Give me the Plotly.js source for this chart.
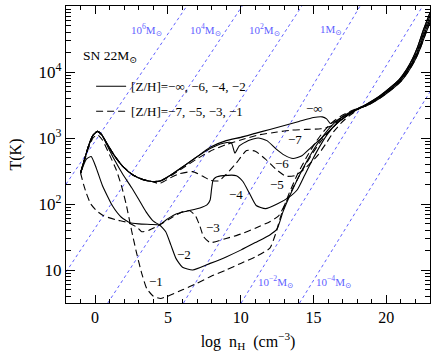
<!DOCTYPE html>
<html>
<head>
<script src="https://cdn.plot.ly/plotly-3.0.1.min.js"></script>
<style>
  html, body { margin: 0; padding: 0; background: #fff; }
  #chart { width: 431px; height: 354px; }
</style>
</head>
<body>
<div id="chart"></div>
<script>
// curves: log n_H and T(K)
const nInf = [-1.0,-0.75,-0.45,-0.15,0.15,0.45,0.8,1.3,1.9,2.6,3.3,3.9,4.5,5.2,6.0,6.9,7.9,9.0,10.0,11.0,12.0,13.0,14.0,15.0,15.6,15.9,16.15,16.5,17.1,17.9,18.7,19.5,20.3,20.9,21.4,21.8,22.15,22.55,23.0];
const tInf = [295,457,759,1096,1259,1122,832,550,372,275,234,219,224,275,363,501,724,912,1023,1175,1349,1549,1778,2042,2089,1950,1660,1778,2138,2692,3311,4266,5888,7762,10965,15849,23988,43652,79433];

const nM7 = [-1.0,-0.75,-0.45,-0.15,0.15,0.45,0.8,1.3,1.9,2.6,3.3,3.9,4.5,5.2,6.0,6.9,7.9,9.0,10.0,11.3,12.5,13.5,14.5,15.5,16.2,16.8,17.5,18.1,18.7,19.5,20.35,20.95,21.45,21.85,22.2,22.6,23.0];
const tM7 = [295,457,759,1096,1259,1122,832,550,372,275,234,219,224,269,347,468,631,794,933,1122,1230,1318,1349,1380,1514,1862,2344,2818,3236,4169,5754,7586,10715,15488,22909,41687,70795];

const nM6 = [-1.0,-0.75,-0.45,-0.15,0.15,0.45,0.8,1.3,1.9,2.6,3.3,3.9,4.5,5.2,6.0,6.9,7.9,8.8,9.35,9.6,9.9,10.5,11.2,11.8,12.4,13.0,13.6,14.2,14.8,15.4,15.9,16.5,17.2,18.0,18.7,19.5,20.3,20.9,21.4,21.8,22.15,22.55,23.0];
const tM6 = [295,457,759,1096,1259,1122,832,550,372,275,234,219,224,275,363,501,692,832,851,589,759,912,1000,912,692,550,490,537,708,933,1175,1585,2089,2692,3311,4266,5888,7762,10965,15849,23988,43652,79433];

const nM5 = [-1.0,-0.75,-0.45,-0.15,0.15,0.45,0.8,1.3,1.9,2.6,3.3,3.9,4.42,5.1,5.8,6.7,7.4,7.9,8.5,9.0,9.7,10.4,11.0,11.7,12.4,13.1,13.7,14.2,14.7,15.3,15.9,16.4,17.0,17.6,18.2,18.7,19.5,20.35,20.95,21.45,21.85,22.2,22.6,23.0];
const tM5 = [295,457,759,1096,1259,1122,832,550,372,275,234,219,204,245,288,309,263,229,224,282,417,646,631,479,339,263,269,316,398,550,851,1259,1778,2291,2818,3236,4169,5754,7586,10715,15488,22909,41687,70795];

const nM4 = [-1.0,-0.75,-0.45,-0.15,0.15,0.45,0.8,1.3,1.9,2.5,3.0,3.5,4.0,4.42,5.0,5.6,6.3,7.2,7.7,7.9,8.0,8.1,8.3,8.8,9.7,10.15,10.6,11.06,11.7,12.5,13.3,13.9,14.4,14.9,15.5,16.0,16.6,17.3,18.0,18.7,19.55,20.4,21.0,21.5,21.9,22.25,22.65,23.0];
const tM4 = [295,457,759,1096,1259,1122,794,479,282,178,117,76,55,49,60,71,78,87,98,115,170,230,255,269,269,219,145,95,85,100,126,166,275,457,794,1175,1660,2188,2754,3162,4169,5754,7586,10715,15136,22387,39811,63096];

const nM3 = [-1.0,-0.8,-0.6,-0.3,0.1,0.6,1.4,2.3,2.9,3.2,3.7,4.42,5.3,6.0,6.5,6.9,7.2,7.45,7.9,9.0,10.0,11.0,12.0,12.6,13.1,13.6,14.2,14.8,15.4,16.0,16.6,17.3,18.0,18.7,19.55,20.4,21.0,21.5,21.9,22.25,22.65,23.0];
const tM3 = [295,200,145,100,79,66,58,52,44,38,40,48,63,76,79,66,46,32,26,30,35,43,54,66,105,178,316,525,832,1202,1660,2188,2754,3162,4169,5754,7586,10715,15136,22387,39811,63096];

const nM2 = [-1.0,-0.6,-0.27,0.07,0.5,1.2,1.8,2.4,3.0,3.8,4.42,4.85,5.2,5.55,6.0,6.7,7.9,9.0,10.0,11.0,12.0,12.5,12.9,13.4,14.0,14.6,15.2,15.8,16.4,17.1,17.9,18.75,19.6,20.45,21.05,21.55,21.95,22.3,22.7,23.0];
const tM2 = [295,479,525,355,191,93,63,52,50,49,48,38,24,15,11,10,12.6,15.8,20,26,34,42,76,138,263,468,776,1175,1660,2188,2692,3162,4074,5623,7413,10471,14791,21878,38019,56234];

const nM1 = [-1.0,-0.75,-0.45,-0.15,0.15,0.5,1.0,1.45,1.8,2.13,2.5,2.85,3.2,3.55,4.0,4.5,5.1,6.0,7.0,8.0,9.0,10.0,11.0,12.0,12.4,12.8,13.3,13.9,14.5,15.1,15.7,16.3,17.0,17.9,18.75,19.6,20.45,21.05,21.55,21.95,22.3,22.7,23.0];
const tM1 = [295,437,708,1000,1122,933,550,331,191,100,40,18,8.9,5.2,4.0,3.7,4.1,5.0,6.3,8.1,10,12.6,15.8,21.4,35.5,71,141,282,501,832,1259,1738,2239,2754,3162,4074,5623,7413,10471,14791,21878,38019,56234];

// Jeans mass lines (end points)
const jeansN = [[-2, 6.3], [-2, 10.1], [0.87, 14.2], [6.07, 18.2], [10.03, 22.5], [14.04, 23]];
const jeansT = [[200, 1e5], [9.3, 1e5], [3.16, 1e5], [3.16, 1e5], [3.16, 1e5], [3.16, 5012]];
const jeansLabels = ['10<sup>6</sup>M<sub>⊙</sub>', '10<sup>4</sup>M<sub>⊙</sub>', '10<sup>2</sup>M<sub>⊙</sub>',
                     '1M<sub>⊙</sub>', '10<sup>−2</sup>M<sub>⊙</sub>', '10<sup>−4</sup>M<sub>⊙</sub>'];

const serif = '"Liberation Serif", "DejaVu Serif", serif';
const blue = 'rgb(95,95,255)';
const dashPat = '7px,4px';

const curves = [
  {x: nInf, y: tInf, dash: 'solid', name: '[Z/H]=−∞, −6, −4, −2', legend: true, group: 'a'},
  {x: nM7, y: tM7, dash: dashPat, name: '[Z/H]=−7, −5, −3, −1', legend: true, group: 'b'},
  {x: nM6, y: tM6, dash: 'solid'},
  {x: nM5, y: tM5, dash: dashPat},
  {x: nM4, y: tM4, dash: 'solid'},
  {x: nM3, y: tM3, dash: dashPat},
  {x: nM2, y: tM2, dash: 'solid'},
  {x: nM1, y: tM1, dash: dashPat}
];

const data = [];

jeansN.forEach((xs, i) => {
  data.push({
    x: xs, y: jeansT[i], mode: 'lines',
    line: {color: blue, width: 1, dash: 'dot'},
    showlegend: false, hoverinfo: 'skip'
  });
});

curves.forEach(c => {
  data.push({
    x: c.x, y: c.y, mode: 'lines',
    line: {color: 'black', width: 1.1, dash: c.dash, shape: 'spline', smoothing: 0.5},
    name: c.name || '', showlegend: !!c.legend, legendgroup: c.group
  });
});

// minor ticks on the log axis
const minorT = [];
for (let d = 0; d < 5; d++) {
  for (let k = 2; k <= 9; k++) minorT.push(k * Math.pow(10, d));
}

const annotations = [];
const jeansLabelPos = [[3.5, 4.64], [7.6, 4.64], [11.6, 4.64], [16.2, 4.64], [12.4, 0.82], [16.4, 0.82]];
jeansLabels.forEach((t, i) => {
  annotations.push({x: jeansLabelPos[i][0], y: jeansLabelPos[i][1], text: t, showarrow: false,
    font: {family: serif, size: 11, color: blue}});
});

annotations.push({x: -0.95, y: 4.23, xanchor: 'left', text: 'SN 22M<sub>⊙</sub>', showarrow: false,
  font: {family: serif, size: 13.5, color: 'black'}});

const curveLabels = ['−∞', '−7', '−6', '−5', '−4', '−3', '−2', '−1'];
const curveLabelPos = [[15.1, 3.45], [13.7, 2.97], [12.85, 2.62], [12.5, 2.29], [9.7, 2.14], [8.1, 1.64], [6.1, 1.23], [4.2, 0.82]];
curveLabels.forEach((t, i) => {
  annotations.push({x: curveLabelPos[i][0], y: curveLabelPos[i][1], text: t, showarrow: false,
    font: {family: serif, size: 13, color: 'black'}});
});

const layout = {
  width: 431, height: 354,
  margin: {l: 66, r: 1, t: 6, b: 51},
  paper_bgcolor: 'white', plot_bgcolor: 'white',
  font: {family: serif, color: 'black'},
  showlegend: true,
  legend: {
    x: 0.069, y: 0.78, xanchor: 'left', yanchor: 'top',
    bgcolor: 'rgba(0,0,0,0)', borderwidth: 0,
    font: {family: serif, size: 13, color: 'black'},
    tracegroupgap: 5
  },
  xaxis: {
    range: [-2, 23],
    tickvals: [0, 5, 10, 15, 20],
    ticks: 'inside', ticklen: 8, tickwidth: 1, tickcolor: 'black',
    minor: {dtick: 1, tick0: 0, ticks: 'inside', ticklen: 4, tickcolor: 'black'},
    showline: true, linecolor: 'black', linewidth: 1.2, mirror: 'allticks',
    showgrid: false, zeroline: false,
    tickfont: {family: serif, size: 16},
    title: {text: 'log  n<sub>H</sub>  (cm<sup>−3</sup>)', font: {family: serif, size: 16}, standoff: 10}
  },
  yaxis: {
    type: 'log',
    range: [0.5, 5],
    tickvals: [10, 100, 1000, 10000, 100000],
    ticktext: ['10', '10<sup>2</sup>', '10<sup>3</sup>', '10<sup>4</sup>', '10<sup>5</sup>'],
    ticks: 'inside', ticklen: 9, tickwidth: 1, tickcolor: 'black',
    minor: {tickmode: 'array', tickvals: minorT, ticks: 'inside', ticklen: 5, tickcolor: 'black'},
    showline: true, linecolor: 'black', linewidth: 1.2, mirror: 'allticks',
    showgrid: false, zeroline: false,
    tickfont: {family: serif, size: 17},
    title: {text: 'T(K)', font: {family: serif, size: 16}, standoff: 12}
  },
  annotations: annotations
};

Plotly.newPlot('chart', data, layout, {displayModeBar: false, staticPlot: true});
</script>
</body>
</html>
